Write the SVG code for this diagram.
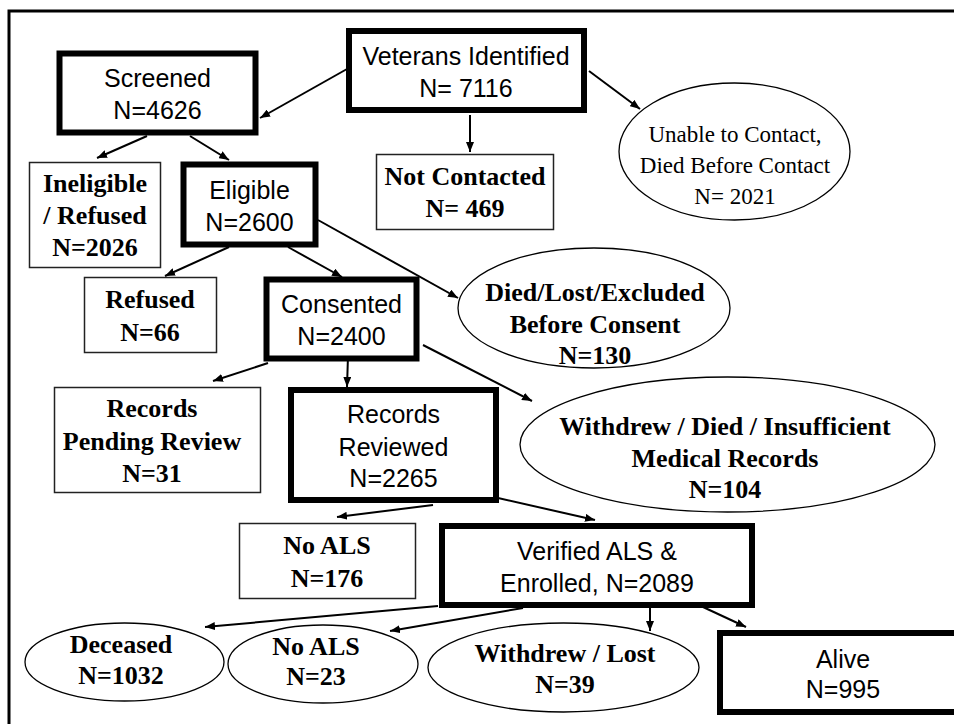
<svg xmlns="http://www.w3.org/2000/svg" width="954" height="724" viewBox="0 0 954 724">
<defs>
<marker id="ah" markerUnits="userSpaceOnUse" markerWidth="10" markerHeight="8" refX="10" refY="4" orient="auto">
<path d="M0,0 L10,4 L0,8 z" fill="#000"/>
</marker>
<style>
.thick{fill:#fff;stroke:#000;stroke-width:6}
.thin{fill:#fff;stroke:#222;stroke-width:1.5}
.ell{fill:#fff;stroke:#000;stroke-width:1.3}
.sans{font-family:"Liberation Sans",Arial,sans-serif;font-size:25px;fill:#000;text-anchor:middle}
.bold{font-family:"Liberation Serif","Times New Roman",serif;font-size:26px;font-weight:bold;fill:#000;text-anchor:middle}
.reg{font-family:"Liberation Serif","Times New Roman",serif;font-size:23px;fill:#000;text-anchor:middle}
.conn line{stroke:#000;stroke-width:2;marker-end:url(#ah)}
</style>
</defs>
<rect x="0" y="0" width="954" height="724" fill="#fff"/>
<rect x="9" y="11" width="960" height="730" fill="none" stroke="#000" stroke-width="3"/>

<g id="veterans">
<rect class="thick" x="349" y="31" width="235" height="79"/>
<text class="sans" x="466" y="65" font-size="23">Veterans Identified</text>
<text class="sans" x="466" y="97" font-size="23">N= 7116</text>
</g>
<g id="screened">
<rect class="thick" x="59.5" y="53.5" width="196" height="79" stroke-width="5"/>
<text class="sans" x="157.5" y="87">Screened</text>
<text class="sans" x="157.5" y="119">N=4626</text>
</g>
<g id="not-contacted">
<rect class="thin" x="376.5" y="154.5" width="177" height="75"/>
<text class="bold" x="465" y="185" font-size="23">Not Contacted</text>
<text class="bold" x="465" y="217" font-size="23">N= 469</text>
</g>
<g id="unable">
<ellipse class="ell" cx="734.5" cy="151.5" rx="115.5" ry="68.5"/>
<text class="reg" x="735" y="142">Unable to Contact,</text>
<text class="reg" x="735" y="173">Died Before Contact</text>
<text class="reg" x="735" y="204">N= 2021</text>
</g>
<g id="ineligible">
<rect class="thin" x="29.5" y="162.5" width="131" height="105"/>
<text class="bold" x="95" y="192">Ineligible</text>
<text class="bold" x="95" y="224">/ Refused</text>
<text class="bold" x="95" y="256">N=2026</text>
</g>
<g id="eligible">
<rect class="thick" x="183.5" y="164.5" width="132" height="80" stroke-width="5"/>
<text class="sans" x="249.5" y="199">Eligible</text>
<text class="sans" x="249.5" y="231">N=2600</text>
</g>
<g id="refused">
<rect class="thin" x="84.5" y="277.5" width="132" height="75"/>
<text class="bold" x="150" y="308">Refused</text>
<text class="bold" x="150" y="341">N=66</text>
</g>
<g id="consented">
<rect class="thick" x="266.5" y="279.5" width="150" height="79" stroke-width="5"/>
<text class="sans" x="341.5" y="313">Consented</text>
<text class="sans" x="341.5" y="345">N=2400</text>
</g>
<g id="died-lost">
<ellipse class="ell" cx="594" cy="308" rx="136" ry="60"/>
<text class="bold" x="595" y="301">Died/Lost/Excluded</text>
<text class="bold" x="595" y="333">Before Consent</text>
<text class="bold" x="595" y="364">N=130</text>
</g>
<g id="records-pending">
<rect class="thin" x="54.5" y="387.5" width="206" height="105"/>
<text class="bold" x="152" y="417">Records</text>
<text class="bold" x="152" y="450">Pending Review</text>
<text class="bold" x="152" y="482">N=31</text>
</g>
<g id="records-reviewed">
<rect class="thick" x="291" y="390" width="205" height="110"/>
<text class="sans" x="393.5" y="423">Records</text>
<text class="sans" x="393.5" y="456">Reviewed</text>
<text class="sans" x="393.5" y="487">N=2265</text>
</g>
<g id="withdrew">
<ellipse class="ell" cx="727.5" cy="444.5" rx="207.5" ry="67.5"/>
<text class="bold" x="725" y="435">Withdrew / Died / Insufficient</text>
<text class="bold" x="725" y="467">Medical Records</text>
<text class="bold" x="725" y="498">N=104</text>
</g>
<g id="no-als-1">
<rect class="thin" x="239.5" y="523.5" width="176" height="75"/>
<text class="bold" x="327" y="554">No ALS</text>
<text class="bold" x="327" y="587">N=176</text>
</g>
<g id="verified">
<rect class="thick" x="442" y="526" width="310" height="79"/>
<text class="sans" x="597" y="560">Verified ALS &amp;</text>
<text class="sans" x="597" y="592">Enrolled, N=2089</text>
</g>
<g id="deceased">
<ellipse class="ell" cx="124.5" cy="662" rx="99.5" ry="39"/>
<text class="bold" x="121" y="653">Deceased</text>
<text class="bold" x="121" y="684">N=1032</text>
</g>
<g id="no-als-2">
<ellipse class="ell" cx="323" cy="664" rx="95" ry="39"/>
<text class="bold" x="316" y="655">No ALS</text>
<text class="bold" x="316" y="685">N=23</text>
</g>
<g id="withdrew-lost">
<ellipse class="ell" cx="563.5" cy="667.5" rx="135.5" ry="44.5"/>
<text class="bold" x="565" y="662">Withdrew / Lost</text>
<text class="bold" x="565" y="693">N=39</text>
</g>
<g id="alive">
<rect class="thick" x="720" y="633" width="250" height="79"/>
<text class="sans" x="843" y="668">Alive</text>
<text class="sans" x="843" y="698">N=995</text>
</g>

<g id="connectors" class="conn">
<line x1="347" y1="69" x2="260" y2="118"/>
<line x1="470" y1="115" x2="470" y2="152"/>
<line x1="589" y1="71" x2="640" y2="109"/>
<line x1="147" y1="136" x2="97" y2="158"/>
<line x1="190" y1="136" x2="229" y2="160"/>
<line x1="229" y1="247" x2="165" y2="276"/>
<line x1="288" y1="247" x2="342" y2="277"/>
<line x1="318" y1="220" x2="458" y2="298"/>
<line x1="268" y1="363" x2="213" y2="381"/>
<line x1="348" y1="356" x2="347" y2="387"/>
<line x1="423" y1="345" x2="532" y2="401"/>
<line x1="433" y1="505" x2="337" y2="517"/>
<line x1="498" y1="498" x2="595" y2="520"/>
<line x1="438" y1="606" x2="205" y2="627"/>
<line x1="523" y1="608" x2="390" y2="631"/>
<line x1="650" y1="608" x2="650" y2="631"/>
<line x1="703" y1="607" x2="746" y2="627"/>
</g>
</svg>
